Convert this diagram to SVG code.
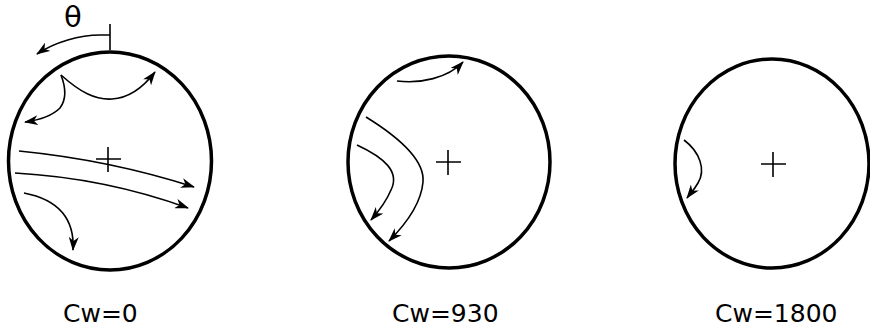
<svg xmlns="http://www.w3.org/2000/svg" width="870" height="331" viewBox="0 0 870 331">
<style>
.rim{fill:none;stroke:#000;stroke-width:3.5}
.cr{stroke:#000;stroke-width:1.6;fill:none}
.ar{fill:none;stroke:#000;stroke-width:1.6;marker-end:url(#ah)}
.lbl{font-family:"DejaVu Sans",Verdana,sans-serif;font-size:25px;fill:#000}
</style>
<defs>
<marker id="ah" viewBox="0 0 14 10" refX="13" refY="5" markerWidth="14" markerHeight="10" markerUnits="userSpaceOnUse" orient="auto">
<path d="M0,0 L14,5 L0,10 L4,5 z" fill="#000"/>
</marker>
</defs>
<g id="disk1">
<ellipse class="rim" cx="110" cy="161" rx="101.5" ry="109"/>
<path class="cr" d="M96,159 H121 M108,147 V172"/>
</g>
<g id="disk2">
<ellipse class="rim" cx="449" cy="162" rx="101" ry="106"/>
<path class="cr" d="M436,162 H461 M448,150 V175"/>
</g>
<g id="disk3">
<ellipse class="rim" cx="772" cy="163.5" rx="97" ry="104.5"/>
<path class="cr" d="M761,164 H786 M773,152 V177"/>
</g>
<g id="theta">
<path class="cr" d="M110,24 V50"/>
<text class="lbl" x="64" y="27" style="font-size:29px">θ</text>
</g>
<g id="connectors">
<path class="ar" d="M110,35 H100 C80,35 55,42 37,54"/>
<path class="ar" d="M61,75 C80,92 95,100 112,99 C130,98 145,85 155,72"/>
<path class="ar" d="M61,75 C66,88 66,100 60,108 C52,116 40,120 25,122"/>
<path class="ar" d="M19,151 Q110,160 194,187"/>
<path class="ar" d="M15,173 Q105,178 188,208"/>
<path class="ar" d="M24,193 C55,199 75,215 73,250"/>
<path class="ar" d="M397,81 C420,84 448,78 463,62"/>
<path class="ar" d="M357,145 C385,158 400,172 391,190 C386,202 378,212 371,220"/>
<path class="ar" d="M366,117 C400,138 425,160 423,182 C421,205 405,225 389,241"/>
<path class="ar" d="M684,140 C700,152 706,170 698,183 C694,190 690,194 687,198"/>
</g>
<g id="labels">
<text class="lbl" x="63" y="322">Cw=0</text>
<text class="lbl" x="392" y="322">Cw=930</text>
<text class="lbl" x="715" y="322">Cw=1800</text>
</g>
</svg>
